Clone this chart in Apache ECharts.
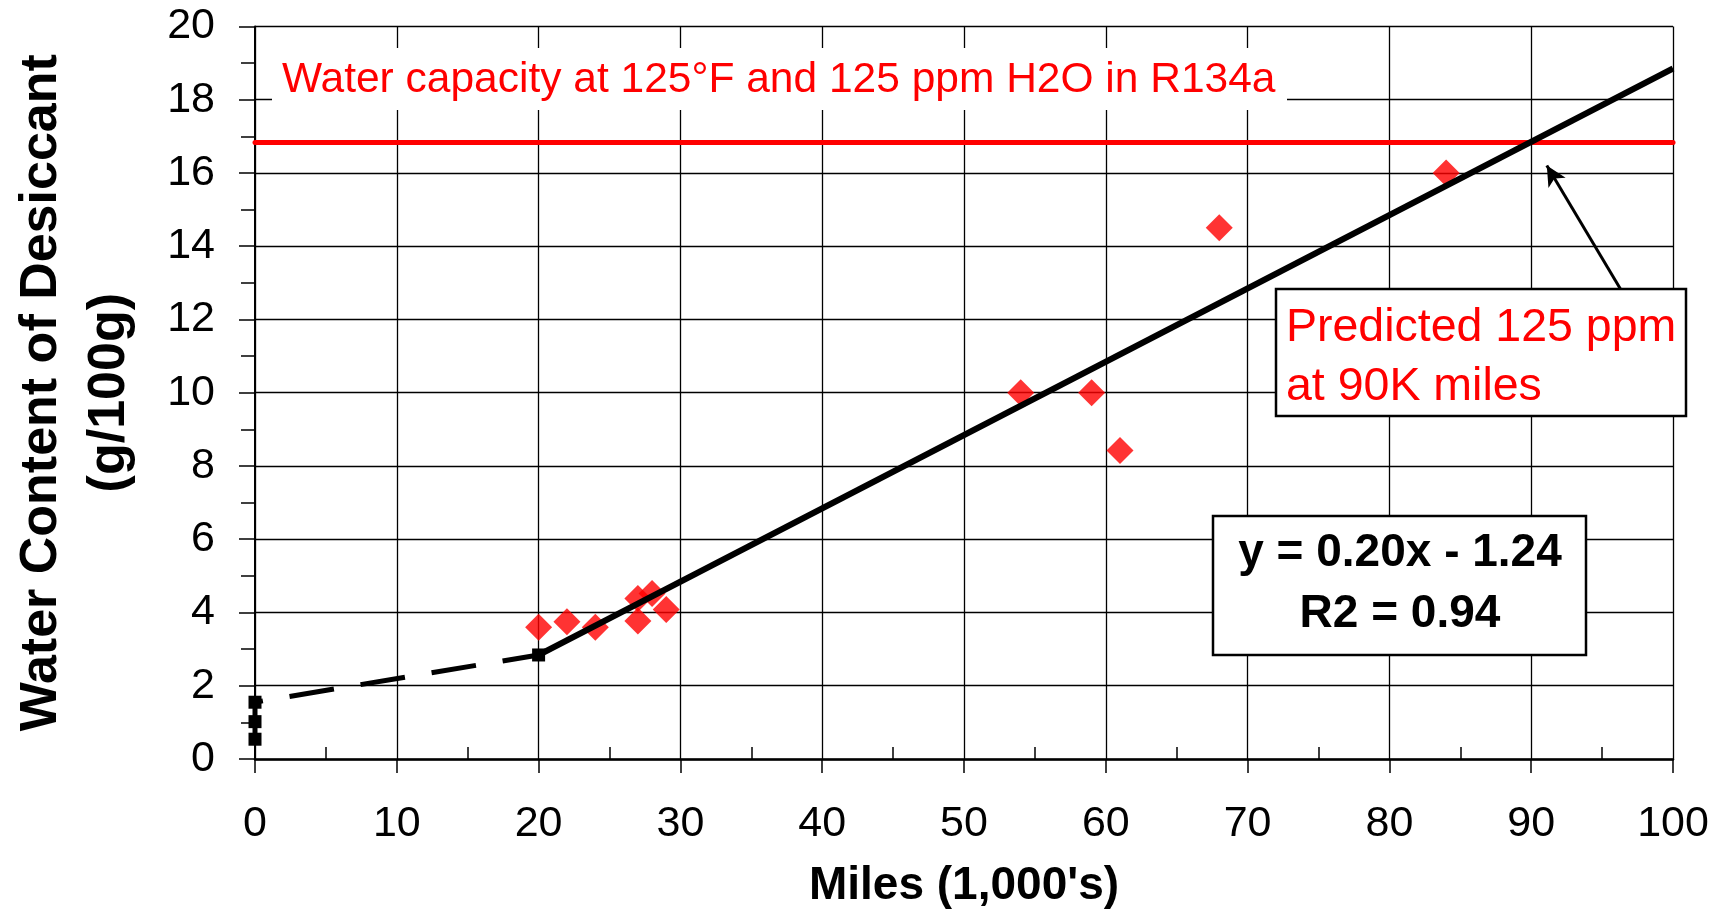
<!DOCTYPE html>
<html>
<head>
    <meta charset="utf-8">
    <title>Water Content of Desiccant</title>
    <script src="https://cdn.jsdelivr.net/npm/echarts@6.0.0/dist/echarts.min.js"></script>
    <style>
        html, body { margin: 0; padding: 0; background: #fff; }
    </style>
</head>
<body>
<div id="main" style="width: 1725px;height:909px;"></div>
<script type="text/javascript">
    // measured samples (miles in 1,000's, water content g/100g)
    var sampleMiles = [20, 22, 24, 27, 27, 28, 29, 54, 59, 61, 68, 84];
    var sampleWater = [3.6, 3.75, 3.6, 4.38, 3.77, 4.52, 4.08, 10.0, 10.0, 8.42, 14.5, 16.0];
    // early points joined by the dashed line
    var earlyMiles = [0, 0, 0, 20];
    var earlyWater = [0.54, 1.02, 1.55, 2.84];
    // linear fit, drawn from 20K to 100K miles
    var trendMiles = [20, 100];
    var trendWater = [2.84, 18.85];
    // water capacity level at 125F / 125 ppm
    var capacityLevel = 16.85;
    // arrow from the note box to the crossing point
    var arrowFrom = [96.4, 12.76];
    var arrowTo = [91.1, 16.2];

    var font = 'Liberation Sans, Arial, sans-serif';

    function pairs(xs, ys) {
        var out = [];
        for (var i = 0; i < xs.length; i++) {
            out.push([xs[i], ys[i]]);
        }
        return out;
    }

    var myChart = echarts.init(document.getElementById('main'));

    option = {
        backgroundColor: '#fff',
        animation: false,
        grid: { left: 255, right: 52, top: 26.4, bottom: 150, outerBoundsMode: 'none' },
        xAxis: {
            type: 'value',
            min: 0, max: 100, interval: 10,
            name: "Miles (1,000's)",
            nameLocation: 'middle',
            nameGap: 104,
            nameTextStyle: { fontFamily: font, fontSize: 46, fontWeight: 'bold', color: '#000' },
            axisLine: { show: true, lineStyle: { color: '#000', width: 2.5 } },
            axisTick: { show: true, length: 14, lineStyle: { color: '#000', width: 1.5 } },
            minorTick: { show: true, splitNumber: 2, length: -12, lineStyle: { color: '#000', width: 1.5 } },
            axisLabel: { fontFamily: font, fontSize: 43, color: '#000', margin: 44 },
            splitLine: { show: true, lineStyle: { color: '#000', width: 1.3 } }
        },
        yAxis: {
            type: 'value',
            min: 0, max: 20, interval: 2,
            name: 'Water Content of Desiccant\n(g/100g)',
            nameLocation: 'middle',
            nameGap: 111,
            nameTextStyle: { fontFamily: font, fontSize: 52, fontWeight: 'bold', color: '#000', lineHeight: 68 },
            axisLine: { show: true, lineStyle: { color: '#000', width: 2 } },
            axisTick: { show: true, length: 16, lineStyle: { color: '#000', width: 1.5 } },
            minorTick: { show: true, splitNumber: 2, length: 14, lineStyle: { color: '#000', width: 1.5 } },
            axisLabel: { fontFamily: font, fontSize: 43, color: '#000', margin: 40 },
            splitLine: { show: true, lineStyle: { color: '#000', width: 1.3 } }
        },
        series: [
            {
                name: 'Samples',
                type: 'scatter',
                symbol: 'diamond',
                symbolSize: 27,
                itemStyle: { color: '#ff0000' },
                data: pairs(sampleMiles, sampleWater),
                z: 3,
                markLine: {
                    silent: true,
                    symbol: 'none',
                    label: { show: false },
                    lineStyle: { color: '#ff0000', width: 5, type: 'solid', cap: 'round' },
                    data: [{ yAxis: capacityLevel }]
                }
            },
            {
                name: 'Early',
                type: 'line',
                symbol: 'rect',
                symbolSize: 13,
                showSymbol: true,
                itemStyle: { color: '#000' },
                lineStyle: { color: '#000', width: 5, type: [45, 27] },
                data: pairs(earlyMiles, earlyWater),
                z: 4
            },
            {
                name: 'Trend',
                type: 'line',
                symbol: 'none',
                lineStyle: { color: '#000', width: 6 },
                data: pairs(trendMiles, trendWater),
                z: 5,
                markLine: {
                    silent: true,
                    symbol: ['none', 'arrow'],
                    symbolSize: [15, 20],
                    label: { show: false },
                    lineStyle: { color: '#000', width: 3, type: 'solid' },
                    data: [[{ coord: arrowFrom }, { coord: arrowTo }]]
                }
            }
        ],
        graphic: [
            {
                type: 'rect', z: 100,
                shape: { x: 272, y: 48, width: 1015, height: 62 },
                style: { fill: '#fff' }
            },
            {
                type: 'text', z: 101, x: 282, y: 80,
                style: {
                    text: 'Water capacity at 125°F and 125 ppm H2O in R134a',
                    fill: '#ff0000', font: '42.5px ' + font,
                    textAlign: 'left', textVerticalAlign: 'middle'
                }
            },
            {
                type: 'rect', z: 100,
                shape: { x: 1276, y: 289, width: 410, height: 127 },
                style: { fill: '#fff', stroke: '#000', lineWidth: 2.5 }
            },
            {
                type: 'text', z: 101, x: 1286, y: 358,
                style: {
                    text: 'Predicted 125 ppm\nat 90K miles',
                    fill: '#ff0000', font: '46.5px ' + font, lineHeight: 59,
                    textAlign: 'left', textVerticalAlign: 'middle'
                }
            },
            {
                type: 'rect', z: 100,
                shape: { x: 1213, y: 516, width: 373, height: 139 },
                style: { fill: '#fff', stroke: '#000', lineWidth: 2.5 }
            },
            {
                type: 'text', z: 101, x: 1400, y: 584,
                style: {
                    text: 'y = 0.20x - 1.24\nR2 = 0.94',
                    fill: '#000', font: 'bold 46px ' + font, lineHeight: 61,
                    textAlign: 'center', textVerticalAlign: 'middle'
                }
            }
        ]
    };

    myChart.setOption(option);
</script>
</body>
</html>
